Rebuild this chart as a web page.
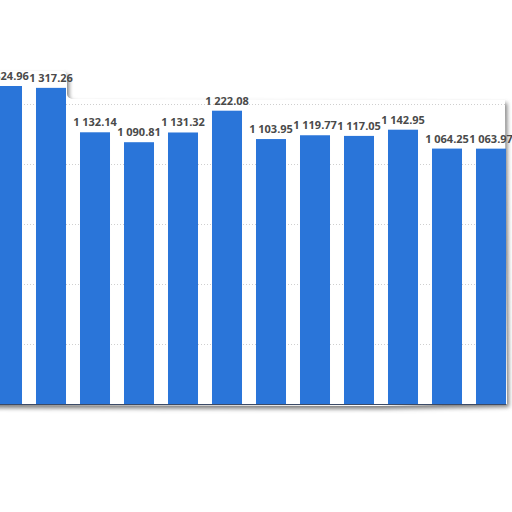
<!DOCTYPE html>
<html>
<head>
<meta charset="utf-8">
<script src="https://cdn.jsdelivr.net/npm/d3@7"></script>
<style>
  html, body { margin: 0; padding: 0; background: #fff; }
  svg { display: block; }
  .label { font-family: "Open Sans", sans-serif; font-weight: 700; font-size: 11px; fill: #4a4a4a; }
</style>
</head>
<body>
<div id="chart"></div>
<script>
const categories = ['p1', 'p2', 'p3', 'p4', 'p5', 'p6', 'p7', 'p8', 'p9', 'p10', 'p11', 'p12']
const values = [1324.96, 1317.26, 1132.14, 1090.81, 1131.32, 1222.08, 1103.95, 1119.77, 1117.05, 1142.95, 1064.25, 1063.97]
const yTicks = [0, 250, 500, 750, 1000, 1250]

const width = 512
const height = 512

const x = d3
  .scaleBand()
  .domain(categories)
  .range([-15, 513])
  .paddingInner(0.318)
  .paddingOuter(0.159)

const y = d3
  .scaleLinear()
  .domain([0, 1250])
  .range([404, 104])

const fmt = d3.formatLocale({ decimal: '.', thousands: ' ', grouping: [3] }).format(',.2f')

const svg = d3
  .select('#chart')
  .append('svg')
  .attr('width', width)
  .attr('height', height)

// soft shadow for the cut-out "paper" edge
const defs = svg.append('defs')
defs
  .append('filter')
  .attr('id', 'blur')
  .attr('x', '-10%')
  .attr('y', '-10%')
  .attr('width', '120%')
  .attr('height', '120%')
  .append('feGaussianBlur')
  .attr('stdDeviation', 2)

const paper = d3.path()
paper.moveTo(-20, 71)
paper.lineTo(62, 71)
paper.quadraticCurveTo(67, 71, 67, 78)
paper.lineTo(67, 94)
paper.quadraticCurveTo(67, 99, 75, 99)
paper.lineTo(505, 100)
paper.lineTo(507, 404)
paper.lineTo(380, 406)
paper.lineTo(-20, 405)
paper.closePath()

svg
  .append('path')
  .attr('d', paper.toString())
  .attr('fill', '#7d7d7d')
  .attr('transform', 'translate(2,3)')
  .attr('filter', 'url(#blur)')

svg
  .append('path')
  .attr('d', paper.toString())
  .attr('fill', '#fff')

// dotted grid
svg
  .append('g')
  .selectAll('line')
  .data(yTicks.slice(1))
  .enter()
  .append('line')
  .attr('x1', 0)
  .attr('x2', 506)
  .attr('y1', d => y(d) + 0.5)
  .attr('y2', d => y(d) + 0.5)
  .attr('stroke', '#cfcfcf')
  .attr('stroke-dasharray', '1,2')

svg
  .append('g')
  .selectAll('rect')
  .data(values)
  .enter()
  .append('rect')
  .attr('x', (d, i) => x(categories[i]))
  .attr('width', x.bandwidth())
  .attr('y', d => y(d))
  .attr('height', d => y(0) - y(d))
  .attr('fill', '#2a75d9')

// base line
svg
  .append('line')
  .attr('x1', 0)
  .attr('x2', 506)
  .attr('y1', y(0) + 0.5)
  .attr('y2', y(0) + 0.5)
  .attr('stroke', '#3b4a66')
  .attr('stroke-width', 1.2)

svg
  .append('g')
  .selectAll('text')
  .data(values)
  .enter()
  .append('text')
  .attr('class', 'label')
  .attr('x', (d, i) => x(categories[i]) + x.bandwidth() / 2)
  .attr('y', d => y(d) - 6)
  .attr('text-anchor', 'middle')
  .text(d => fmt(d))
</script>
</body>
</html>
